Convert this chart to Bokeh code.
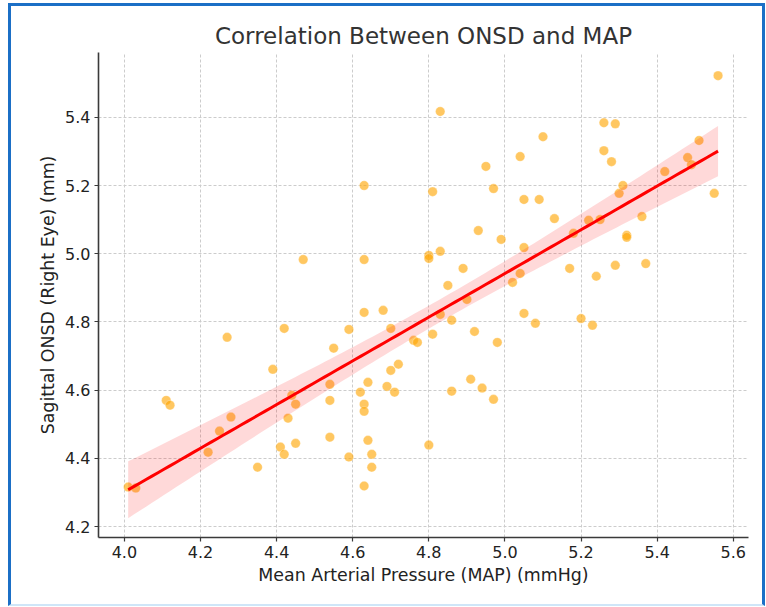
import numpy as np
from bokeh.plotting import figure
from bokeh.models import Range1d, FixedTicker, NumeralTickFormatter
from bokeh.embed import file_html
from bokeh.resources import INLINE

# Data
map_vals = [4.01, 4.03, 4.11, 4.12, 4.22, 4.25, 4.27, 4.28, 4.35, 4.39,
            4.41, 4.42, 4.42, 4.43, 4.44, 4.45, 4.45, 4.47, 4.54, 4.54,
            4.54, 4.55, 4.59, 4.59, 4.62, 4.63, 4.63, 4.63, 4.63, 4.63,
            4.63, 4.64, 4.64, 4.65, 4.65, 4.68, 4.69, 4.70, 4.70, 4.71,
            4.72, 4.76, 4.77, 4.80, 4.80, 4.80, 4.81, 4.81, 4.83, 4.83,
            4.83, 4.85, 4.86, 4.86, 4.89, 4.90, 4.91, 4.92, 4.93, 4.94,
            4.95, 4.97, 4.97, 4.98, 4.99, 5.02, 5.04, 5.04, 5.05, 5.05,
            5.05, 5.08, 5.09, 5.10, 5.13, 5.17, 5.18, 5.20, 5.22, 5.23,
            5.24, 5.25, 5.26, 5.26, 5.28, 5.29, 5.29, 5.30, 5.31, 5.32,
            5.32, 5.36, 5.37, 5.42, 5.48, 5.49, 5.51, 5.55, 5.56]
onsd_vals = [4.316, 4.313, 4.570, 4.556, 4.418, 4.480, 4.755, 4.521, 4.374, 4.661,
             4.433, 4.412, 4.781, 4.518, 4.585, 4.559, 4.444, 4.983, 4.617, 4.570,
             4.462, 4.723, 4.778, 4.404, 4.594, 5.200, 4.983, 4.828, 4.559, 4.538,
             4.319, 4.623, 4.453, 4.412, 4.374, 4.834, 4.611, 4.781, 4.658, 4.594,
             4.676, 4.746, 4.740, 4.995, 4.986, 4.439, 5.182, 4.764, 5.417, 5.007,
             4.822, 4.907, 4.805, 4.597, 4.957, 4.866, 4.632, 4.772, 5.068, 4.606,
             5.256, 5.191, 4.573, 4.740, 5.042, 4.916, 5.285, 4.942, 5.159, 5.018,
             4.825, 4.796, 5.159, 5.343, 5.103, 4.957, 5.060, 4.810, 5.098, 4.790,
             4.934, 5.100, 5.384, 5.302, 5.270, 5.381, 4.966, 5.177, 5.200, 5.054,
             5.048, 5.109, 4.971, 5.241, 5.282, 5.261, 5.332, 5.177, 5.522]
x_ticks = [4.0, 4.2, 4.4, 4.6, 4.8, 5.0, 5.2, 5.4, 5.6]
y_ticks = [4.2, 4.4, 4.6, 4.8, 5.0, 5.2, 5.4]

title_text = "Correlation Between ONSD and MAP"
x_label = "Mean Arterial Pressure (MAP) (mmHg)"
y_label = "Sagittal ONSD (Right Eye) (mm)"

# Linear fit with confidence band of the mean
x = np.array(map_vals)
y = np.array(onsd_vals)
n = len(x)
slope, intercept = np.polyfit(x, y, 1)
xs = np.linspace(x.min(), x.max(), 100)
ys = slope * xs + intercept
resid = y - (slope * x + intercept)
s = np.sqrt(np.sum(resid ** 2) / (n - 2))
sxx = np.sum((x - x.mean()) ** 2)
se = s * np.sqrt(1.0 / n + (xs - x.mean()) ** 2 / sxx)
t = 1.70
lower = ys - t * se
upper = ys + t * se

FONT = "DejaVu Sans"

p = figure(width=757, height=603, output_backend="svg", toolbar_location=None,
           x_range=Range1d(3.932, 5.64), y_range=Range1d(4.168, 5.59),
           min_border_left=87, min_border_right=20, min_border_top=46,
           min_border_bottom=72)
p.styles = {"margin-top": "3px",
            "margin-left": "8px",
            "overflow": "hidden",
            "border-top": "3px solid #1b6fc6",
            "border-left": "3px solid #1b6fc6",
            "border-right": "3px solid #1b6fc6",
            "border-bottom": "2px solid #cfe6f8"}

p.title.text = title_text
p.title.align = "center"
p.title.text_font = FONT
p.title.text_font_size = "23px"
p.title.text_font_style = "normal"
p.title.text_color = "#333333"
p.title.standoff = 7

p.outline_line_color = None
p.background_fill_color = "white"
p.border_fill_color = "white"

for ax in (p.xaxis, p.yaxis):
    ax.axis_line_color = "#3a3a3a"
    ax.axis_line_width = 1.6
    ax.major_tick_line_color = "#3a3a3a"
    ax.major_tick_line_width = 1.2
    ax.major_tick_out = 4
    ax.major_tick_in = 0
    ax.minor_tick_line_color = None
    ax.major_label_text_font = FONT
    ax.major_label_text_font_size = "16px"
    ax.major_label_text_color = "#222222"
    ax.axis_label_text_font = FONT
    ax.axis_label_text_font_size = "17.4px"
    ax.axis_label_text_font_style = "normal"
    ax.axis_label_text_color = "#222222"
    ax.major_label_standoff = 4

p.xaxis.axis_label_standoff = 4
p.yaxis.axis_label_standoff = 4

p.xaxis.ticker = FixedTicker(ticks=x_ticks)
p.yaxis.ticker = FixedTicker(ticks=y_ticks)
p.xaxis.formatter = NumeralTickFormatter(format="0.0")
p.yaxis.formatter = NumeralTickFormatter(format="0.0")
p.xaxis.axis_label = x_label
p.yaxis.axis_label = y_label

for g in (p.xgrid, p.ygrid):
    g.grid_line_color = "#cccccc"
    g.grid_line_dash = "3 2"
    g.grid_line_width = 1

p.scatter(x, y, size=9.5, fill_color="orange", fill_alpha=0.62,
          line_color="white", line_alpha=0.6, line_width=0.5)
p.varea(x=xs, y1=lower, y2=upper, fill_color="red", fill_alpha=0.15)
p.line(xs, ys, line_color="red", line_width=3)

open("out.html", "w").write(file_html(p, INLINE))
